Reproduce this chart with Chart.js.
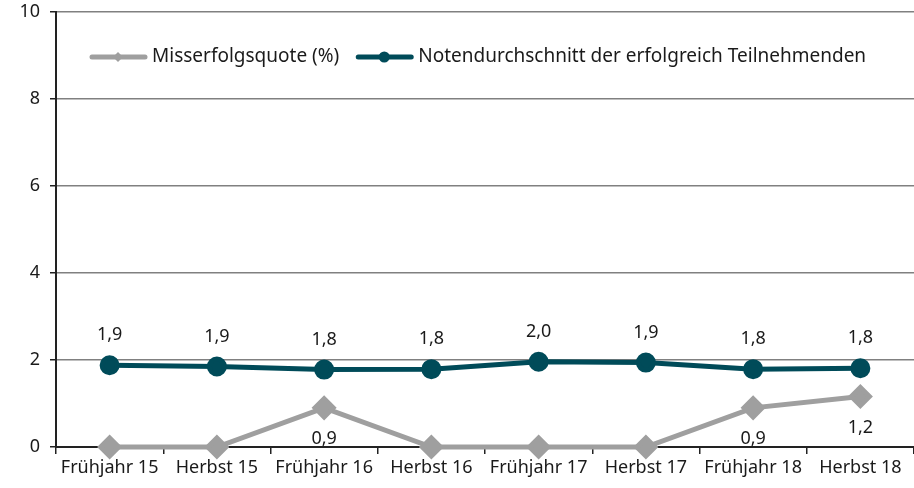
<!DOCTYPE html>
<html>
<head>
<meta charset="utf-8">
<script src="https://cdn.jsdelivr.net/npm/chart.js@4"></script>
<style>
  html, body { margin: 0; padding: 0; background: #fff; overflow: hidden; }
  #wrap { width: 914px; height: 488px; position: relative; }
  canvas { display: block; }
</style>
</head>
<body>
<div id="wrap"><canvas id="chart"></canvas></div>
<script>
// Data
const categories = ['Frühjahr 15', 'Herbst 15', 'Frühjahr 16', 'Herbst 16', 'Frühjahr 17', 'Herbst 17', 'Frühjahr 18', 'Herbst 18'];
const misserfolg = [0, 0, 0.9, 0, 0, 0, 0.9, 1.16];
const notenschnitt = [1.88, 1.85, 1.78, 1.79, 1.96, 1.94, 1.79, 1.81];
const yTicks = [0, 2, 4, 6, 8, 10];

const FONT = '"Noto Sans", sans-serif';
const GRAY = '#9f9f9f';
const TEAL = '#004b59';

const fmt = v => v.toFixed(1).replace('.', ',');

// value labels: teal above, gray below (zeros skipped)
const valueLabels = {
    id: 'valueLabels',
    afterDatasetsDraw(chart) {
        const ctx = chart.ctx;
        ctx.save();
        ctx.font = '18px ' + FONT;
        ctx.fillStyle = '#1a1a1a';
        ctx.textAlign = 'center';
        ctx.textBaseline = 'middle';
        chart.data.datasets.forEach((ds, i) => {
            const meta = chart.getDatasetMeta(i);
            meta.data.forEach((pt, j) => {
                const v = ds.data[j];
                if (ds.labelPos === 'below') {
                    if (v === 0) return;
                    ctx.fillText(fmt(v), pt.x, pt.y + 31);
                } else {
                    ctx.fillText(fmt(v), pt.x, pt.y - 30);
                }
            });
        });
        ctx.restore();
    }
};

// legend drawn inside the plot area, line + marker icons
const innerLegend = {
    id: 'innerLegend',
    afterDraw(chart) {
        const ctx = chart.ctx;
        const area = chart.chartArea;
        let x = area.left + 36;
        const y = area.top + 45;
        ctx.save();
        ctx.font = '19px ' + FONT;
        ctx.textBaseline = 'middle';
        chart.data.datasets.forEach(ds => {
            ctx.strokeStyle = ds.borderColor;
            ctx.lineWidth = 5;
            ctx.lineCap = 'round';
            ctx.beginPath();
            ctx.moveTo(x, y);
            ctx.lineTo(x + 53, y);
            ctx.stroke();
            ctx.fillStyle = ds.borderColor;
            const cx = x + 26;
            ctx.beginPath();
            if (ds.pointStyle === 'rectRot') {
                const r = 5;
                ctx.moveTo(cx, y - r); ctx.lineTo(cx + r, y); ctx.lineTo(cx, y + r); ctx.lineTo(cx - r, y);
            } else {
                ctx.arc(cx, y, 5.5, 0, Math.PI * 2);
            }
            ctx.closePath();
            ctx.fill();
            ctx.fillStyle = '#1a1a1a';
            ctx.fillText(ds.label, x + 60, y);
            x += 60 + ctx.measureText(ds.label).width + 19;
        });
        ctx.restore();
    }
};

new Chart(document.getElementById('chart'), {
    type: 'line',
    data: {
        labels: categories,
        datasets: [
            {
                label: 'Misserfolgsquote (%)',
                data: misserfolg,
                borderColor: GRAY, backgroundColor: GRAY,
                borderWidth: 5, pointStyle: 'rectRot', pointRadius: 9, pointHoverRadius: 9,
                tension: 0, labelPos: 'below', order: 2, clip: false
            },
            {
                label: 'Notendurchschnitt der erfolgreich Teilnehmenden',
                data: notenschnitt,
                borderColor: TEAL, backgroundColor: TEAL,
                borderWidth: 5, pointStyle: 'circle', pointRadius: 7.5, pointHoverRadius: 7.5,
                tension: 0, labelPos: 'above', order: 1, clip: false
            }
        ]
    },
    options: {
        responsive: true,
        maintainAspectRatio: false,
        animation: false,
        layout: { autoPadding: false, padding: { top: 12, right: 0, left: 0, bottom: 0 } },
        plugins: { legend: { display: false }, tooltip: { enabled: false } },
        scales: {
            x: {
                offset: true,
                grid: { display: true, drawOnChartArea: false, drawTicks: true, tickLength: 7, color: '#222', offset: true, lineWidth: 1.5 },
                border: { display: true, color: '#222', width: 2 },
                ticks: { color: '#1a1a1a', font: { family: FONT, size: 18 }, padding: 3, maxRotation: 0, autoSkip: false },
                afterFit: s => { s.height = 41; s.paddingLeft = 0; s.paddingRight = 0; }
            },
            y: {
                min: 0, max: 10,
                afterBuildTicks: s => { s.ticks = yTicks.map(v => ({ value: v })); },
                grid: { color: '#808080', lineWidth: 1.5, tickLength: 6, tickColor: '#222' },
                border: { display: true, color: '#222', width: 2 },
                ticks: { color: '#1a1a1a', font: { family: FONT, size: 18 }, padding: 10 },
                afterFit: s => { s.width = 56; s.paddingTop = 0; s.paddingBottom = 0; }
            }
        }
    },
    plugins: [valueLabels, innerLegend]
});
</script>
</body>
</html>
